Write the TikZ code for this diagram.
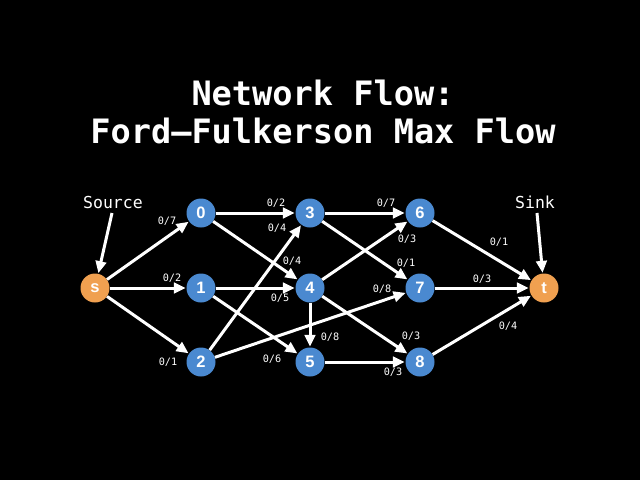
\documentclass[tikz,border=0pt]{standalone}
\usepackage{fontspec}
\setmainfont{Liberation Sans}
\newfontfamily\monofont{DejaVu Sans Mono}
\usetikzlibrary{arrows.meta}
\definecolor{nodeblue}{RGB}{74,137,208}
\definecolor{nodeorange}{RGB}{240,160,80}
\tikzset{
  vtx/.style={circle, fill=nodeblue, draw=none, minimum size=29pt, inner sep=0pt, text=white, font=\fontsize{16.5}{16.5}\selectfont\bfseries},
  term/.style={vtx, fill=nodeorange},
  edge/.style={draw=white, line width=3pt, -{Triangle[length=12pt,width=10.5pt]}, shorten >=0.5pt},
  lbl/.style={text=white, font=\monofont\fontsize{10.2}{10.2}\selectfont, inner sep=0pt},
  tag/.style={text=white, font=\monofont\fontsize{16.5}{16.5}\selectfont, inner sep=0pt},
  ttl/.style={text=white, font=\monofont\bfseries\fontsize{33.6}{38}\selectfont, align=center, inner sep=0pt}
}
\begin{document}
\begin{tikzpicture}[x=1pt,y=-1pt]
\fill[black] (0,0) rectangle (640,480);
\useasboundingbox (0,0) rectangle (640,480);
\node[ttl] (title1) at (323,93) {Network Flow:};
\node[ttl] (title2) at (323,131) {Ford–Fulkerson Max Flow};

\node[term] (s) at (95,288) {s};
\node[vtx] (n0) at (201,213) {0};
\node[vtx] (n1) at (201,288) {1};
\node[vtx] (n2) at (201,362) {2};
\node[vtx] (n3) at (310,213) {3};
\node[vtx] (n4) at (310,288) {4};
\node[vtx] (n5) at (310,362) {5};
\node[vtx] (n6) at (420,213) {6};
\node[vtx] (n7) at (420,288) {7};
\node[vtx] (n8) at (420,362) {8};
\node[term] (t) at (544,288) {t};

\draw[edge] (s) -- (n0);
\draw[edge] (s) -- (n1);
\draw[edge] (s) -- (n2);
\draw[edge] (n0) -- (n3);
\draw[edge] (n0) -- (n4);
\draw[edge] (n1) -- (n4);
\draw[edge] (n1) -- (n5);
\draw[edge] (n2) -- (n3);
\draw[edge] (n2) -- (n7);
\draw[edge] (n3) -- (n6);
\draw[edge] (n3) -- (n7);
\draw[edge] (n4) -- (n6);
\draw[edge] (n4) -- (n5);
\draw[edge] (n4) -- (n8);
\draw[edge] (n5) -- (n8);
\draw[edge] (n6) -- (t);
\draw[edge] (n7) -- (t);
\draw[edge] (n8) -- (t);

\node[lbl] (l1) at (167,221) {0/7};
\node[lbl] (l2) at (172,278) {0/2};
\node[lbl] (l3) at (168,362) {0/1};
\node[lbl] (l4) at (276,203) {0/2};
\node[lbl] (l5) at (277,228) {0/4};
\node[lbl] (l6) at (292,261) {0/4};
\node[lbl] (l7) at (280,298) {0/5};
\node[lbl] (l8) at (272,359) {0/6};
\node[lbl] (l9) at (330,337) {0/8};
\node[lbl] (l10) at (386,203) {0/7};
\node[lbl] (l11) at (407,239) {0/3};
\node[lbl] (l12) at (406,263) {0/1};
\node[lbl] (l13) at (382,289) {0/8};
\node[lbl] (l14) at (411,336) {0/3};
\node[lbl] (l15) at (393,372) {0/3};
\node[lbl] (l16) at (499,242) {0/1};
\node[lbl] (l17) at (482,279) {0/3};
\node[lbl] (l18) at (508,326) {0/4};

\node[tag] (src) at (113,202) {Source};
\node[tag] (snk) at (535,202) {Sink};
\coordinate (srcA) at (112,213);
\coordinate (snkA) at (537,213);
\draw[edge] (srcA) -- (s);
\draw[edge] (snkA) -- (t);
\end{tikzpicture}
\end{document}
